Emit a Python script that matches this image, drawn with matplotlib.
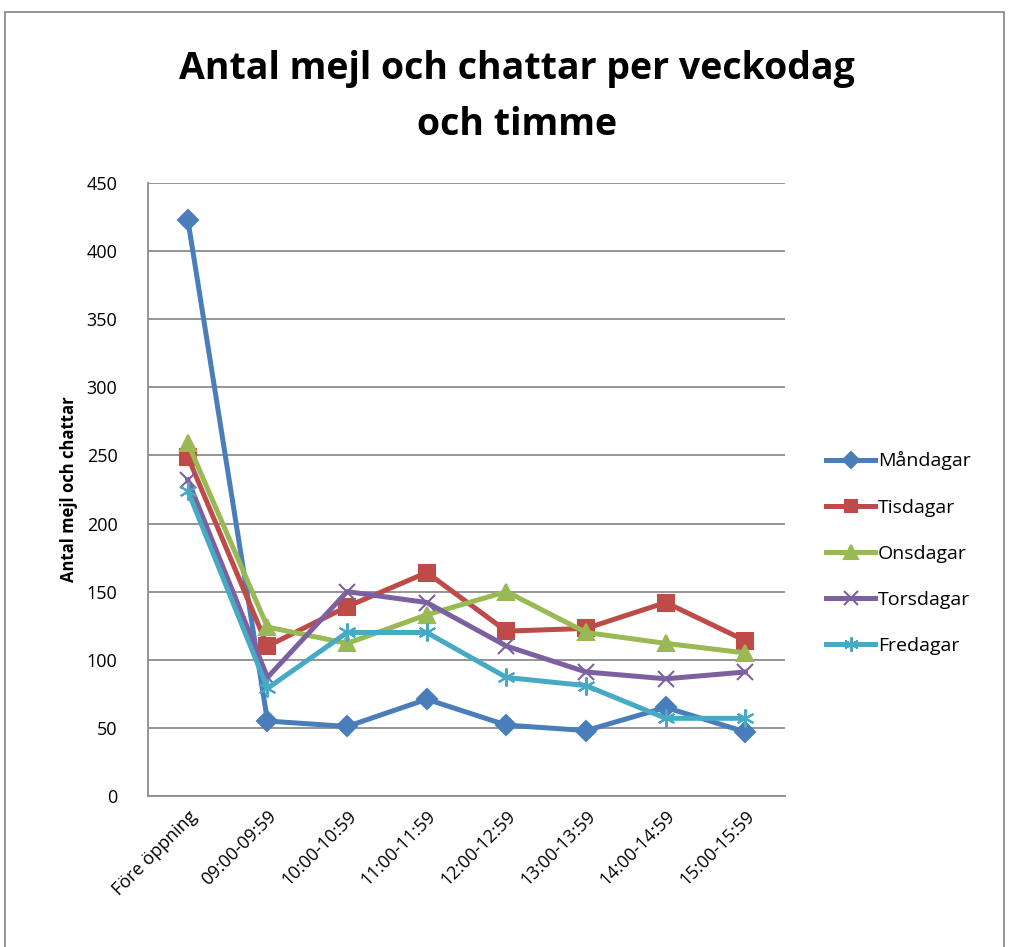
import matplotlib
matplotlib.use("Agg")
import matplotlib.pyplot as plt
from matplotlib.patches import Rectangle

# data
categories = ["Före öppning", "09:00-09:59", "10:00-10:59", "11:00-11:59",
              "12:00-12:59", "13:00-13:59", "14:00-14:59", "15:00-15:59"]
mandagar = [423, 55, 51, 71, 52, 48, 65, 47]
tisdagar = [249, 110, 139, 164, 121, 123, 142, 114]
onsdagar = [259, 124, 112, 133, 150, 120, 112, 105]
torsdagar = [232, 87, 150, 142, 110, 91, 86, 91]
fredagar = [224, 79, 120, 120, 87, 81, 57, 57]

series = [
    ("Måndagar", mandagar, "#4A7EBB", "D", 10),
    ("Tisdagar", tisdagar, "#BE4B48", "s", 11),
    ("Onsdagar", onsdagar, "#98B954", "^", 12),
    ("Torsdagar", torsdagar, "#7D60A0", "x", 12),
    ("Fredagar", fredagar, "#46AAC5", (6, 2, 0), 13),
]

plt.rcParams["font.family"] = ["Open Sans", "DejaVu Sans"]

fig = plt.figure(figsize=(10.09, 9.47), dpi=100)
ax = fig.add_axes([0.1467, 0.1595, 0.6315, 0.6473])

x = list(range(len(categories)))
for name, vals, col, mk, ms in series:
    ax.plot(x, vals, color=col, lw=3.6, marker=mk, markersize=ms,
            markeredgecolor=col, markerfacecolor=col, markeredgewidth=1.5,
            label=name)

ax.set_xlim(-0.5, len(categories) - 0.5)
ax.set_ylim(0, 450)
ax.set_yticks(range(0, 451, 50))
ax.set_xticks(x)
ax.set_xticklabels(categories, rotation=45, ha="right", rotation_mode="anchor",
                   fontsize=13)
ax.tick_params(axis="y", labelsize=13, length=0, pad=22)
ax.tick_params(axis="x", length=0, pad=8)
ax.grid(axis="y", color="#8C8C8C", lw=1.3)
ax.set_axisbelow(True)
for s in ["top", "right"]:
    ax.spines[s].set_visible(False)
ax.spines["left"].set_color("#8C8C8C")
ax.spines["bottom"].set_color("#8C8C8C")
ax.spines["left"].set_linewidth(1.3)
ax.spines["bottom"].set_linewidth(1.3)

ax.set_ylabel("Antal mejl och chattar", fontsize=12, fontweight="bold", labelpad=6)

fig.text(0.512, 0.927, "Antal mejl och chattar per veckodag", ha="center",
         va="center", fontsize=27, fontweight="bold")
fig.text(0.512, 0.868, "och timme", ha="center", va="center",
         fontsize=27, fontweight="bold")

ax.legend(loc="center left", bbox_to_anchor=(1.037, 0.396),
          bbox_transform=ax.transAxes, frameon=False, fontsize=14,
          handlelength=2.5, labelspacing=1.45, handletextpad=0.15,
          markerscale=0.8)

fig.patches.append(Rectangle((0.005, -0.01), 0.99, 0.997, transform=fig.transFigure,
                             fill=False, edgecolor="#8C8C8C", lw=1.3))

fig.savefig("out.png", dpi=100)
